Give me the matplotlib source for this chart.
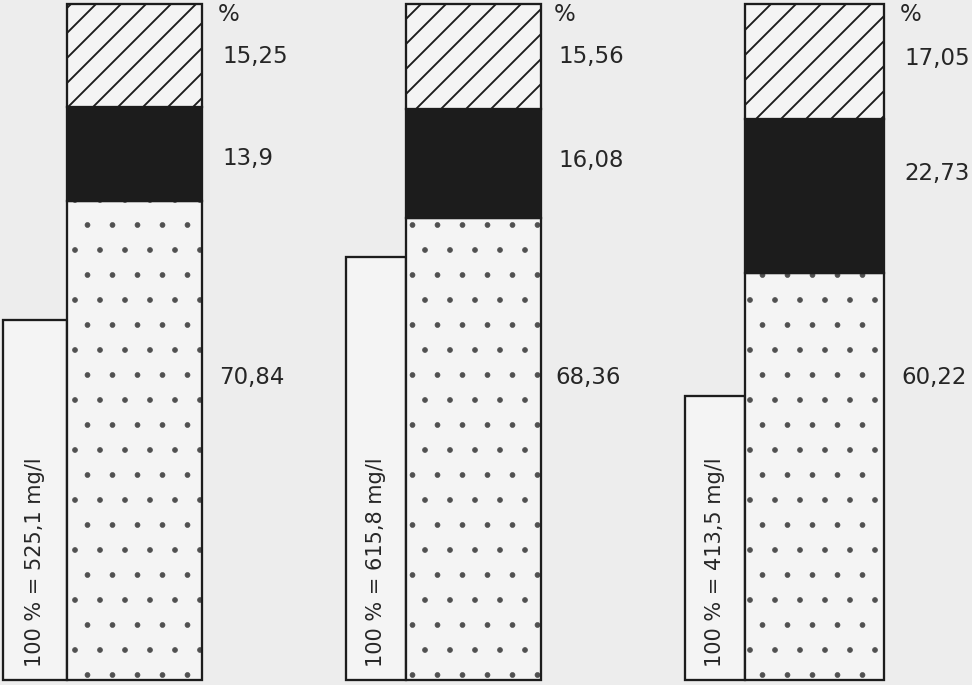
import matplotlib.pyplot as plt

plt.rcParams['font.family'] = 'DejaVu Sans'
plt.rcParams['hatch.linewidth'] = 0.9

# data
total_mg = [525.1, 615.8, 413.5]
dotted_pct = [70.84, 68.36, 60.22]
black_pct = [13.9, 16.08, 22.73]
hatched_pct = [15.25, 15.56, 17.05]
dotted_lbl = ['70,84', '68,36', '60,22']
black_lbl = ['13,9', '16,08', '22,73']
hatched_lbl = ['15,25', '15,56', '17,05']
conc_lbl = ['100 % = 525,1 mg/l', '100 % = 615,8 mg/l', '100 % = 413,5 mg/l']

# layout (x in pixel-like units, label heights in %)
stack_x = [67, 406, 745]
stack_w = [135, 135, 139]
white_w = [64, 60, 60]
label_x = [222, 558, 904]
hatched_y = [92.2, 92.2, 92.0]
black_y = [77.2, 76.9, 74.9]
dotted_y = [44.7, 44.7, 44.7]

bg = '#ededed'
fill = '#f4f4f4'
ink = '#1c1c1c'
txt = '#262626'

fig = plt.figure(figsize=(6.48, 4.5667), dpi=150, facecolor=bg)
ax = fig.add_axes([0, 0, 1, 1])
ax.set_facecolor(bg)
ax.set_xlim(0, 972)
ax.set_ylim(-0.74, 100.59)
ax.axis('off')

# white bars for total concentration (own scale)
ax2 = ax.twinx()
ax2.set_ylim(-0.74 * 9.85, 100.59 * 9.85)
ax2.axis('off')
white_left = [x - w for x, w in zip(stack_x, white_w)]
ax2.bar(white_left, total_mg, width=white_w, align='edge',
        facecolor=fill, edgecolor=ink, linewidth=1.1)

# stacked 100% bars
bottom_black = dotted_pct
bottom_hatch = [a + b for a, b in zip(dotted_pct, black_pct)]
with plt.rc_context({'hatch.linewidth': 0.3}):
    dots = ax.bar(stack_x, dotted_pct, width=stack_w, align='edge',
                  facecolor=fill, edgecolor='#505050', linewidth=0, hatch='.')
    for p in dots:
        if hasattr(p, 'set_hatch_linewidth'):
            p.set_hatch_linewidth(0.3)
ax.bar(stack_x, dotted_pct, width=stack_w, align='edge',
       fill=False, edgecolor=ink, linewidth=1.1)
ax.bar(stack_x, black_pct, width=stack_w, align='edge', bottom=bottom_black,
       facecolor=ink, edgecolor=ink, linewidth=1.1)
ax.bar(stack_x, hatched_pct, width=stack_w, align='edge', bottom=bottom_hatch,
       facecolor=fill, edgecolor=ink, linewidth=1.1, hatch='//')
ax.set_zorder(ax2.get_zorder() + 1)
ax.patch.set_visible(False)

for i in range(3):
    lx = label_x[i]
    ax.text(lx - 4, 98.4, '%', fontsize=11, color=txt, va='center', ha='left')
    ax.text(lx, hatched_y[i], hatched_lbl[i], fontsize=11, color=txt, va='center', ha='left')
    ax.text(lx, black_y[i], black_lbl[i], fontsize=11, color=txt, va='center', ha='left')
    ax.text(lx - 3, dotted_y[i], dotted_lbl[i], fontsize=11, color=txt, va='center', ha='left')
    ax.text(stack_x[i] - white_w[i] / 2, 17.5, conc_lbl[i], fontsize=10, color=txt,
            rotation=90, va='center', ha='center')

fig.savefig('out.png', dpi=150, facecolor=bg)
